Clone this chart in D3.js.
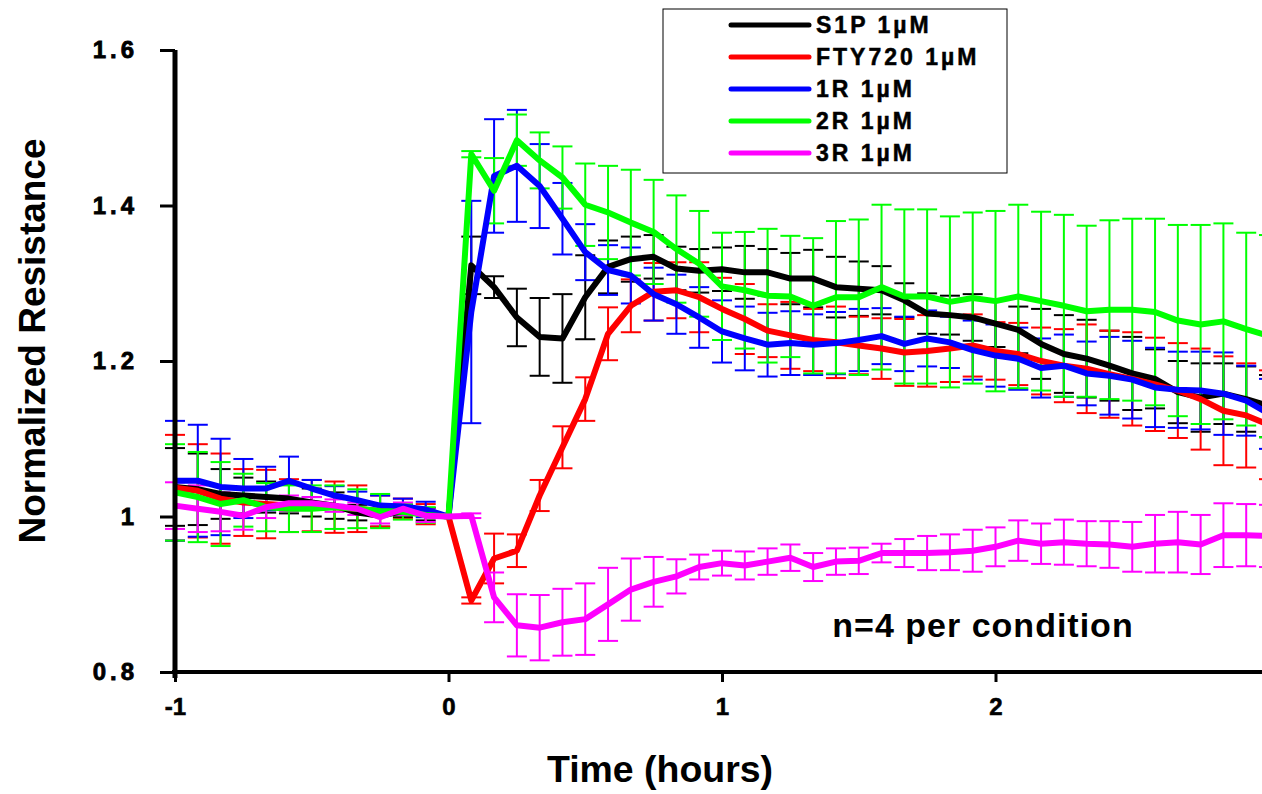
<!DOCTYPE html>
<html lang="en">
<head>
<meta charset="UTF-8">
<title>Normalized Resistance</title>
<script src="https://cdn.jsdelivr.net/npm/d3@7"></script>
<style>
  body { margin: 0; background: #fff; }
  svg { display: block; font-family: Arial, "Liberation Sans", sans-serif; }
</style>
</head>
<body>
<svg width="1262" height="794"></svg>
<script>
// time in minutes, 5 min steps
var minutes = [-60, -55, -50, -45, -40, -35, -30, -25, -20, -15, -10, -5, 0,
  5, 10, 15, 20, 25, 30, 35, 40, 45, 50, 55, 60,
  65, 70, 75, 80, 85, 90, 95, 100, 105, 110, 115, 120,
  125, 130, 135, 140, 145, 150, 155, 160, 165, 170, 175, 180];

var seriesNames = ["S1P 1µM", "FTY720 1µM", "1R 1µM", "2R 1µM", "3R 1µM"];
var seriesColors = ["#000000", "#ff0000", "#0000ff", "#00ff00", "#ff00ff"];

var s1p = [1.038, 1.035, 1.029, 1.027, 1.025, 1.023, 1.018, 1.014, 1.005, 1.001, 1.007, 1.003, 1.000,
  1.323, 1.295, 1.256, 1.231, 1.229, 1.282, 1.321, 1.331, 1.334, 1.319, 1.316, 1.318,
  1.314, 1.314, 1.306, 1.306, 1.295, 1.293, 1.291, 1.278, 1.261, 1.259, 1.256, 1.248,
  1.240, 1.222, 1.209, 1.203, 1.194, 1.184, 1.177, 1.160, 1.153, 1.158, 1.151, 1.142];
var s1pErr = [0.050, 0.046, 0.032, 0.023, 0.020, 0.019, 0.018, 0.017, 0.010, 0.014, 0.008, 0.008, 0,
  0.037, 0.014, 0.037, 0.050, 0.057, 0.054, 0.034, 0.029, 0.028, 0.028, 0.028, 0.028,
  0.034, 0.030, 0.033, 0.037, 0.039, 0.035, 0.031, 0.022, 0.026, 0.025, 0.030, 0.030,
  0.030, 0.045, 0.050, 0.050, 0.045, 0.047, 0.038, 0.040, 0.044, 0.039, 0.042, 0.040];

var fty = [1.037, 1.033, 1.023, 1.018, 1.016, 1.014, 1.014, 1.012, 1.010, 1.007, 1.010, 1.003, 1.000,
  0.892, 0.946, 0.956, 1.027, 1.089, 1.151, 1.235, 1.271, 1.289, 1.291, 1.282, 1.267,
  1.254, 1.239, 1.233, 1.227, 1.224, 1.220, 1.216, 1.211, 1.213, 1.216, 1.220, 1.213,
  1.209, 1.200, 1.194, 1.190, 1.183, 1.177, 1.170, 1.162, 1.151, 1.136, 1.130, 1.118];
var ftyErr = [0.068, 0.060, 0.058, 0.043, 0.044, 0.034, 0.033, 0.033, 0.030, 0.020, 0.013, 0.013, 0,
  0.004, 0.032, 0.021, 0.020, 0.027, 0.028, 0.034, 0.034, 0.037, 0.036, 0.045, 0.040,
  0.045, 0.034, 0.043, 0.040, 0.046, 0.037, 0.039, 0.043, 0.046, 0.043, 0.040, 0.037,
  0.040, 0.043, 0.047, 0.057, 0.056, 0.060, 0.060, 0.061, 0.065, 0.070, 0.067, 0.070];

var r1 = [1.046, 1.046, 1.038, 1.036, 1.036, 1.046, 1.036, 1.027, 1.021, 1.014, 1.013, 1.009, 1.000,
  1.263, 1.438, 1.451, 1.425, 1.383, 1.340, 1.317, 1.310, 1.286, 1.273, 1.256, 1.238,
  1.229, 1.221, 1.223, 1.221, 1.223, 1.227, 1.232, 1.222, 1.229, 1.224, 1.214, 1.207,
  1.203, 1.191, 1.194, 1.184, 1.181, 1.176, 1.166, 1.163, 1.162, 1.158, 1.149, 1.132];
var r1Err = [0.077, 0.072, 0.062, 0.038, 0.028, 0.031, 0.011, 0.012, 0.011, 0.013, 0.010, 0.010, 0,
  0.143, 0.073, 0.072, 0.054, 0.046, 0.036, 0.032, 0.036, 0.034, 0.038, 0.039, 0.040,
  0.041, 0.041, 0.041, 0.039, 0.040, 0.040, 0.036, 0.035, 0.036, 0.033, 0.038, 0.040,
  0.040, 0.038, 0.040, 0.041, 0.050, 0.050, 0.051, 0.049, 0.050, 0.053, 0.045, 0.045];

var r2 = [1.031, 1.025, 1.016, 1.021, 1.012, 1.010, 1.010, 1.012, 1.010, 1.007, 1.006, 1.002, 1.000,
  1.466, 1.419, 1.484, 1.458, 1.436, 1.401, 1.391, 1.378, 1.366, 1.344, 1.325, 1.296,
  1.291, 1.284, 1.283, 1.271, 1.282, 1.282, 1.295, 1.283, 1.283, 1.276, 1.281, 1.277,
  1.283, 1.277, 1.271, 1.264, 1.266, 1.266, 1.263, 1.252, 1.247, 1.251, 1.241, 1.232];
var r2Err = [0.062, 0.058, 0.054, 0.034, 0.031, 0.030, 0.030, 0.028, 0.025, 0.022, 0.010, 0.010, 0,
  0.004, 0.042, 0.033, 0.036, 0.040, 0.053, 0.060, 0.068, 0.067, 0.069, 0.068, 0.069,
  0.075, 0.086, 0.078, 0.087, 0.098, 0.100, 0.106, 0.112, 0.112, 0.110, 0.110, 0.116,
  0.118, 0.115, 0.117, 0.110, 0.115, 0.117, 0.120, 0.123, 0.128, 0.126, 0.124, 0.130];

var r3 = [1.014, 1.010, 1.006, 1.001, 1.012, 1.017, 1.017, 1.014, 1.010, 0.999, 1.010, 1.001, 1.000,
  1.001, 0.896, 0.860, 0.857, 0.864, 0.868, 0.887, 0.906, 0.916, 0.923, 0.935, 0.940,
  0.937, 0.942, 0.947, 0.935, 0.942, 0.943, 0.953, 0.953, 0.953, 0.954, 0.956, 0.961,
  0.969, 0.965, 0.967, 0.965, 0.964, 0.961, 0.965, 0.967, 0.964, 0.976, 0.976, 0.975];
var r3Err = [0.030, 0.030, 0.025, 0.018, 0.014, 0.010, 0.008, 0.008, 0.008, 0.008, 0.008, 0.008, 0,
  0.003, 0.032, 0.040, 0.042, 0.043, 0.046, 0.047, 0.040, 0.032, 0.022, 0.016, 0.016,
  0.018, 0.017, 0.017, 0.018, 0.017, 0.017, 0.012, 0.018, 0.022, 0.023, 0.027, 0.025,
  0.026, 0.026, 0.029, 0.029, 0.030, 0.032, 0.037, 0.039, 0.038, 0.041, 0.040, 0.040];

var xTicks = [-1, 0, 1, 2];
var xTickLabels = ["-1", "0", "1", "2"];
var yTicks = [0.8, 1.0, 1.2, 1.4, 1.6];
var yTickLabels = ["0.8", "1", "1.2", "1.4", "1.6"];

var values = [s1p, fty, r1, r2, r3];
var errors = [s1pErr, ftyErr, r1Err, r2Err, r3Err];

var svg = d3.select("svg");

var x = d3.scaleLinear().domain([-1, 3]).range([175, 1269]);
var y = d3.scaleLinear().domain([0.8, 1.6]).range([672, 50]);

var series = values.map(function (v, s) {
  return {
    name: seriesNames[s],
    color: seriesColors[s],
    points: v.map(function (d, i) {
      return { t: minutes[i] / 60, v: d, e: errors[s][i] };
    })
  };
});

// error bars first, lines on top
var capW = 10;
var eg = svg.append("g");
series.forEach(function (s) {
  var g = eg.append("g").attr("stroke", s.color).attr("stroke-width", 2);
  var pts = s.points.filter(function (p) { return p.e > 0; });
  g.selectAll(".v").data(pts).enter().append("line")
    .attr("x1", function (p) { return x(p.t); })
    .attr("x2", function (p) { return x(p.t); })
    .attr("y1", function (p) { return y(p.v + p.e); })
    .attr("y2", function (p) { return y(p.v - p.e); });
  [1, -1].forEach(function (sign) {
    g.selectAll(".c" + sign).data(pts).enter().append("line")
      .attr("x1", function (p) { return x(p.t) - capW; })
      .attr("x2", function (p) { return x(p.t) + capW; })
      .attr("y1", function (p) { return y(p.v + sign * p.e); })
      .attr("y2", function (p) { return y(p.v + sign * p.e); });
  });
});

var line = d3.line().x(function (p) { return x(p.t); }).y(function (p) { return y(p.v); });
svg.append("g").selectAll("path").data(series).enter().append("path")
  .attr("d", function (s) { return line(s.points); })
  .attr("fill", "none")
  .attr("stroke", function (s) { return s.color; })
  .attr("stroke-width", 6)
  .attr("stroke-linejoin", "round");

// axes
var xAxis = svg.append("g").attr("transform", "translate(0,672)")
  .call(d3.axisBottom(x).tickValues(xTicks).tickSize(10).tickPadding(16)
    .tickFormat(function (d, i) { return xTickLabels[i]; }));
xAxis.select(".domain").attr("stroke-width", 4).attr("d", "M172,0H1269");
xAxis.selectAll(".tick line").attr("stroke-width", 3);
xAxis.selectAll(".tick text").attr("font-size", 24).attr("font-weight", "bold").attr("fill", "#000")
  .attr("stroke", "#000").attr("stroke-width", 0.6);

var yAxis = svg.append("g").attr("transform", "translate(175,0)")
  .call(d3.axisLeft(y).tickValues(yTicks).tickSize(15).tickPadding(22)
    .tickFormat(function (d, i) { return yTickLabels[i]; }));
yAxis.select(".domain").attr("stroke-width", 5).attr("d", "M0,50V678");
yAxis.selectAll(".tick line").attr("stroke-width", 3);
yAxis.selectAll(".tick text").attr("font-size", 24).attr("font-weight", "bold")
  .attr("letter-spacing", "4px").attr("fill", "#000")
  .attr("stroke", "#000").attr("stroke-width", 0.8);

// axis titles
svg.append("text").attr("x", 660).attr("y", 782).attr("text-anchor", "middle")
  .attr("font-size", 36).attr("font-weight", "bold")
  .attr("textLength", 226).attr("lengthAdjust", "spacingAndGlyphs")
  .text("Time (hours)");
svg.append("text").attr("transform", "translate(45,341) rotate(-90)").attr("text-anchor", "middle")
  .attr("font-size", 36).attr("font-weight", "bold")
  .attr("textLength", 405).attr("lengthAdjust", "spacingAndGlyphs")
  .text("Normalized Resistance");

svg.append("text").attr("x", 983).attr("y", 637).attr("text-anchor", "middle")
  .attr("font-size", 34).attr("font-weight", "bold").attr("letter-spacing", "1px")
  .text("n=4 per condition");

// legend
var legend = svg.append("g").attr("transform", "translate(663,9)");
legend.append("rect").attr("width", 344).attr("height", 164)
  .attr("fill", "#fff").attr("stroke", "#000").attr("stroke-width", 1);
var items = legend.selectAll(".item").data(series).enter().append("g")
  .attr("transform", function (s, i) { return "translate(0," + (16 + i * 32) + ")"; });
items.append("line").attr("x1", 68).attr("x2", 146)
  .attr("stroke", function (s) { return s.color; }).attr("stroke-width", 5)
  .attr("stroke-linecap", "round");
items.append("text").attr("x", 153).attr("y", 8)
  .attr("font-size", 23).attr("font-weight", "bold").attr("letter-spacing", "3px")
  .attr("stroke", "#000").attr("stroke-width", 0.5)
  .text(function (s) { return s.name; });
</script>
</body>
</html>
